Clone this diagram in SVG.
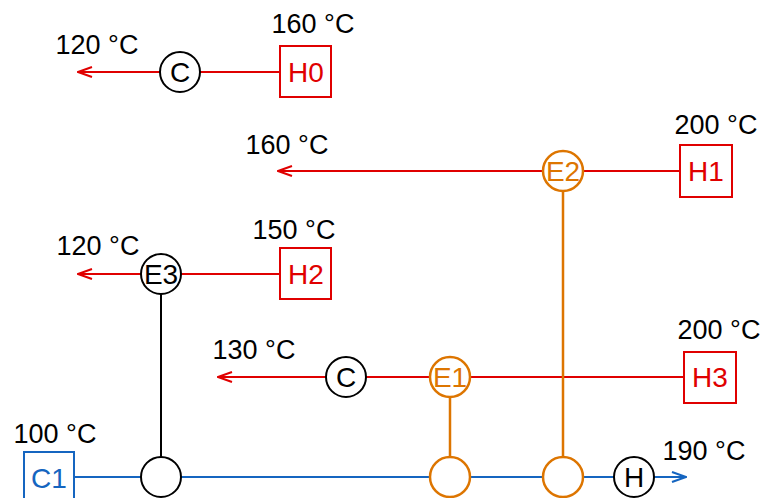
<svg xmlns="http://www.w3.org/2000/svg" width="763" height="498" viewBox="0 0 763 498">
<defs>
<marker id="arR" viewBox="0 0 16 12" refX="15" refY="6" markerWidth="16" markerHeight="12" markerUnits="userSpaceOnUse" orient="auto">
<path d="M1,1 L15,6 L1,11" fill="none" stroke="#e00000" stroke-width="2"/>
</marker>
<marker id="arB" viewBox="0 0 16 12" refX="15" refY="6" markerWidth="16" markerHeight="12" markerUnits="userSpaceOnUse" orient="auto">
<path d="M1,1 L15,6 L1,11" fill="none" stroke="#1565c0" stroke-width="2"/>
</marker>
</defs>
<style>
text{font-family:"Liberation Sans",Arial,sans-serif;text-anchor:middle}
.t{font-size:27px;fill:#000}
.lbl{font-size:28px;dominant-baseline:central}
.hot{stroke:#e00000;stroke-width:2;fill:none}
.cold{stroke:#1565c0;stroke-width:2;fill:none}
.org{stroke:#dd7500;stroke-width:2.5;fill:none}
.blk{stroke:#000;stroke-width:2;fill:none}
.hb{fill:#fff;stroke:#e00000;stroke-width:2}
.cb{fill:#fff;stroke:#1565c0;stroke-width:2}
.oc{fill:#fff;stroke:#dd7500;stroke-width:2.5}
.kc{fill:#fff;stroke:#000;stroke-width:2}
</style>
<g id="connectors">
<path class="hot" d="M280,72 H78" marker-end="url(#arR)"/>
<path class="hot" d="M680,171 H278" marker-end="url(#arR)"/>
<path class="hot" d="M280,274 H78" marker-end="url(#arR)"/>
<path class="hot" d="M684,377 H218" marker-end="url(#arR)"/>
<path class="cold" d="M74,477 H686" marker-end="url(#arB)"/>
<path class="org" d="M563,191 V457"/>
<path class="org" d="M450,397 V457"/>
<path class="blk" d="M161,294 V457"/>
</g>
<g id="H0"><rect class="hb" x="280" y="46" width="51" height="51"/><text class="lbl" x="306" y="72" fill="#e00000">H0</text><text class="t" x="313" y="33">160 °C</text></g>
<g id="C_H0"><circle class="kc" cx="180" cy="72" r="20"/><text class="lbl" x="180" y="72" fill="#000">C</text></g>
<g id="H0_out"><text class="t" x="97" y="54">120 °C</text></g>
<g id="H1"><rect class="hb" x="680" y="145" width="52" height="52"/><text class="lbl" x="706" y="171" fill="#e00000">H1</text><text class="t" x="716" y="134">200 °C</text></g>
<g id="E2"><circle class="oc" cx="563" cy="171" r="20"/><text class="lbl" x="563" y="171" fill="#dd7500">E2</text></g>
<g id="H1_out"><text class="t" x="287" y="154">160 °C</text></g>
<g id="H2"><rect class="hb" x="280" y="248" width="51" height="51"/><text class="lbl" x="306" y="274" fill="#e00000">H2</text><text class="t" x="294" y="239">150 °C</text></g>
<g id="E3"><circle class="kc" cx="161" cy="274" r="20"/><text class="lbl" x="161" y="274" fill="#000">E3</text></g>
<g id="H2_out"><text class="t" x="98" y="255">120 °C</text></g>
<g id="H3"><rect class="hb" x="684" y="352" width="52" height="51"/><text class="lbl" x="710" y="377" fill="#e00000">H3</text><text class="t" x="719" y="339">200 °C</text></g>
<g id="E1"><circle class="oc" cx="450" cy="377" r="20"/><text class="lbl" x="450" y="377" fill="#dd7500">E1</text></g>
<g id="C_H3"><circle class="kc" cx="346" cy="377" r="20"/><text class="lbl" x="346" y="377" fill="#000">C</text></g>
<g id="H3_out"><text class="t" x="254" y="359">130 °C</text></g>
<g id="C1"><rect class="cb" x="24" y="452" width="50" height="52"/><text class="lbl" x="49" y="478" fill="#1565c0">C1</text><text class="t" x="55" y="443">100 °C</text></g>
<g id="E3c"><circle class="kc" cx="161" cy="477" r="20"/></g>
<g id="E1c"><circle class="oc" cx="450" cy="477" r="20"/></g>
<g id="E2c"><circle class="oc" cx="563" cy="477" r="20"/></g>
<g id="Hc"><circle class="kc" cx="634" cy="477" r="20"/><text class="lbl" x="634" y="477" fill="#000">H</text></g>
<g id="C1_out"><text class="t" x="704" y="460">190 °C</text></g>
</svg>
